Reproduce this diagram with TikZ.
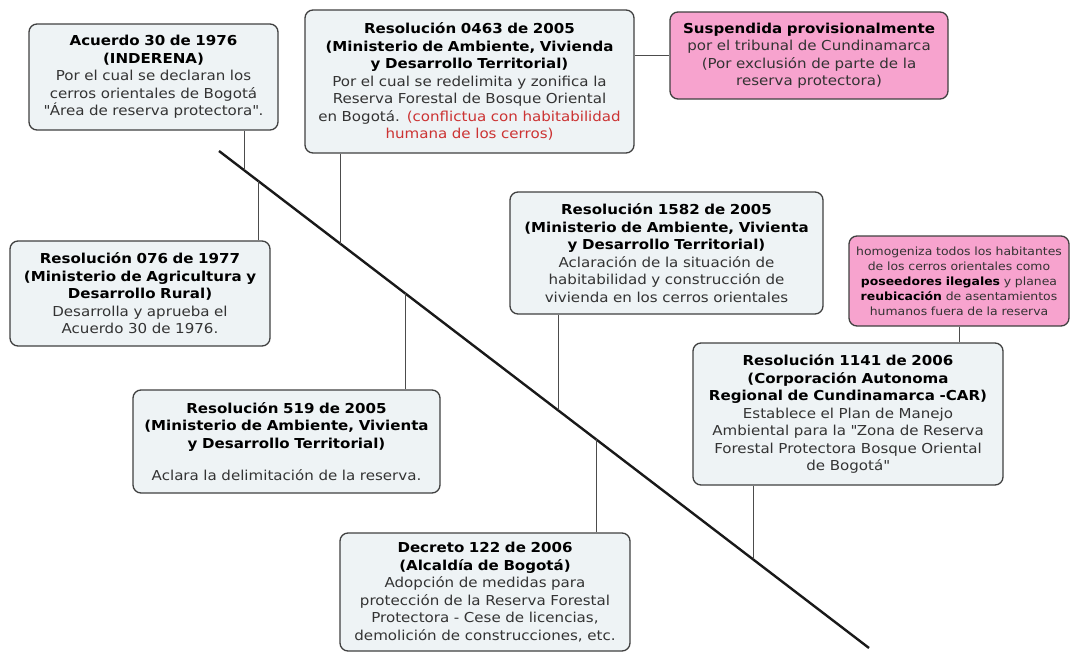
\documentclass[tikz,border=0pt]{standalone}
\usepackage{fontspec}
\setmainfont{DejaVu Sans}[FakeStretch=1.1]
\usepackage{tikz}

\definecolor{boxfill}{HTML}{EEF3F5}
\definecolor{pinkfill}{HTML}{F7A3CE}
\definecolor{bodytext}{HTML}{333333}
\definecolor{redtext}{HTML}{CC3333}

\begin{document}
\begin{tikzpicture}[x=1pt,y=-1pt,
  box/.style={draw=black!75,line width=1.3pt,rounded corners=8pt,fill=boxfill,
    align=center,inner sep=2pt,text=bodytext,font=\fontsize{13.7}{17.5}\selectfont},
  note/.style={box,fill=pinkfill},
  link/.style={draw=black!70,line width=1pt}]
  \useasboundingbox (0,0) rectangle (1079,653);

  \node[box,minimum width=249pt,minimum height=106pt,text width=245pt] (acu) at (153.5,77)
    {\textcolor{black}{\bfseries Acuerdo 30 de 1976\\(INDERENA)}\\
     Por el cual se declaran los\\cerros orientales de Bogotá\\
     \textquotedbl Área de reserva protectora\textquotedbl.};
  \node[box,minimum width=329pt,minimum height=143pt,text width=325pt] (r0463) at (469.5,81.5)
    {\textcolor{black}{\bfseries Resolución 0463 de 2005\\(Ministerio de Ambiente, Vivienda\\y Desarrollo Territorial)}\\
     Por el cual se redelimita y zonifica la\\Reserva Forestal de Bosque Oriental\\
     en Bogotá. \textcolor{redtext}{(conflictua con habitabilidad\\humana de los cerros)}};
  \node[note,minimum width=278pt,minimum height=87pt,text width=274pt] (susp) at (809,55.5)
    {\textcolor{black}{\bfseries Suspendida provisionalmente}\\
     por el tribunal de Cundinamarca\\(Por exclusión de parte de la\\reserva protectora)};
  \node[box,minimum width=260pt,minimum height=105pt,text width=256pt] (r076) at (140,293.5)
    {\textcolor{black}{\bfseries Resolución 076 de 1977\\(Ministerio de Agricultura y\\Desarrollo Rural)}\\
     Desarrolla y aprueba el\\Acuerdo 30 de 1976.};
  \node[box,minimum width=313pt,minimum height=122pt,text width=309pt] (r1582) at (666.5,253)
    {\textcolor{black}{\bfseries Resolución 1582 de 2005\\(Ministerio de Ambiente, Vivienta\\y Desarrollo Territorial)}\\
     Aclaración de la situación de\\habitabilidad y construcción de\\vivienda en los cerros orientales};
  \node[note,minimum width=220pt,minimum height=90pt,text width=216pt,
    font=\fontsize{11.3}{15.1}\selectfont] (homog) at (959,281)
    {homogeniza todos los habitantes\\de los cerros orientales como\\
     \textcolor{black}{\bfseries poseedores ilegales} y planea\\
     \textcolor{black}{\bfseries reubicación} de asentamientos\\humanos fuera de la reserva};
  \node[box,minimum width=310pt,minimum height=142pt,text width=306pt] (r1141) at (848,414)
    {\textcolor{black}{\bfseries Resolución 1141 de 2006\\(Corporación Autonoma\\Regional de Cundinamarca -CAR)}\\
     Establece el Plan de Manejo\\Ambiental para la \textquotedbl Zona de Reserva\\
     Forestal Protectora Bosque Oriental\\de Bogotá\textquotedbl};
  \node[box,minimum width=307pt,minimum height=103pt,text width=303pt] (r519) at (286.5,441.5)
    {\textcolor{black}{\bfseries Resolución 519 de 2005\\(Ministerio de Ambiente, Vivienta\\y Desarrollo Territorial)}\\[15pt]
     Aclara la delimitación de la reserva.};
  \node[box,minimum width=290pt,minimum height=118pt,text width=286pt] (dec122) at (485,592)
    {\textcolor{black}{\bfseries Decreto 122 de 2006\\(Alcaldía de Bogotá)}\\
     Adopción de medidas para\\protección de la Reserva Forestal\\
     Protectora - Cese de licencias,\\demolición de construcciones, etc.};

  % eje del tiempo
  \coordinate (ts) at (219,151);
  \coordinate (te) at (869,648);
  \draw[line width=2.4pt,black!90] (ts) -- (te);
  \coordinate (p1) at (244,170.1);
  \coordinate (p2) at (258,180.8);
  \coordinate (p3) at (340,243.5);
  \coordinate (p4) at (405,293.2);
  \coordinate (p5) at (558,410.2);
  \coordinate (p6) at (596,439.3);
  \coordinate (p7) at (753,559.4);

  \draw[link] (acu.south -| p1) -- (p1);
  \draw[link] (r076.north -| p2) -- (p2);
  \draw[link] (r0463.south -| p3) -- (p3);
  \draw[link] (r519.north -| p4) -- (p4);
  \draw[link] (r1582.south -| p5) -- (p5);
  \draw[link] (dec122.north -| p6) -- (p6);
  \draw[link] (r1141.south -| p7) -- (p7);
  \draw[link] (r0463.east |- susp.west) -- (susp.west);
  \draw[link] (homog.south) -- (homog.south |- r1141.north);
\end{tikzpicture}
\end{document}
